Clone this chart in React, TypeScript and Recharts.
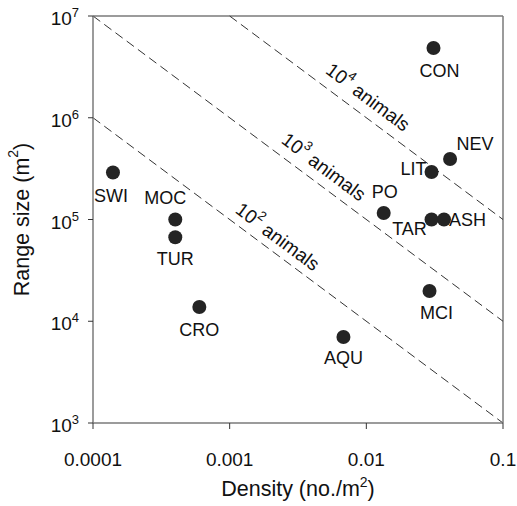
import { ReferenceLine, Scatter, ScatterChart, XAxis, YAxis } from "recharts";

const font = '"Liberation Sans", Arial, sans-serif';
const ink = "#242424";
const frame = "#7a7a7a";

const speciesNames = ["SWI", "MOC", "TUR", "CRO", "AQU", "PO", "LIT", "CON", "NEV", "TAR", "ASH", "MCI"];
const density = [0.00014, 0.0004, 0.0004, 0.0006, 0.0068, 0.0134, 0.03, 0.031, 0.041, 0.03, 0.037, 0.029];
const rangeSize = [2.9e5, 1.0e5, 6.7e4, 1.38e4, 7.0e3, 1.16e5, 2.93e5, 4.85e6, 3.93e5, 1.0e5, 1.0e5, 1.98e4];

const xTicks = [0.0001, 0.001, 0.01, 0.1];
const xTickLabels = ["0.0001", "0.001", "0.01", "0.1"];
const yTicks = [1e3, 1e4, 1e5, 1e6, 1e7];
const yExponents = ["3", "4", "5", "6", "7"];

// iso-lines of constant population (animals = density x range)
const isoExponents = ["2", "3", "4"];
const isoStart = [
  { x: 0.0001, y: 1e6 },
  { x: 0.0001, y: 1e7 },
  { x: 0.001, y: 1e7 },
];
const isoEnd = [
  { x: 0.1, y: 1e3 },
  { x: 0.1, y: 1e4 },
  { x: 0.1, y: 1e5 },
];
const isoLabelX = [0.00225, 0.0049, 0.0103];
const isoLabelY = [6.8e4, 3.3e5, 1.6e6];

const points = speciesNames.map((name, i) => ({ name, x: density[i], y: rangeSize[i] }));
const isoLabels = isoExponents.map((exp, i) => ({ exp, x: isoLabelX[i], y: isoLabelY[i] }));

// label offset from the dot centre
const labelPlacement: Record<string, { dx: number; dy: number; anchor: "start" | "middle" | "end" }> = {
  SWI: { dx: -2, dy: 24, anchor: "middle" },
  MOC: { dx: -10, dy: -22, anchor: "middle" },
  TUR: { dx: 0, dy: 22, anchor: "middle" },
  CRO: { dx: 0, dy: 23, anchor: "middle" },
  AQU: { dx: 0, dy: 21, anchor: "middle" },
  PO: { dx: 1, dy: -21, anchor: "middle" },
  LIT: { dx: -5, dy: -3, anchor: "end" },
  CON: { dx: 6, dy: 23, anchor: "middle" },
  NEV: { dx: 25, dy: -15, anchor: "middle" },
  TAR: { dx: -22, dy: 9, anchor: "middle" },
  ASH: { dx: 5, dy: 0, anchor: "start" },
  MCI: { dx: 7, dy: 22, anchor: "middle" },
};

function renderPoint(props: any) {
  const { cx, cy, payload } = props;
  const p = labelPlacement[payload.name];
  return (
    <g>
      <circle cx={cx} cy={cy} r={7} fill={ink} />
      <text
        x={cx + p.dx}
        y={cy + p.dy}
        textAnchor={p.anchor}
        dominantBaseline="central"
        fontFamily={font}
        fontSize={18}
        fill="#111"
      >
        {payload.name}
      </text>
    </g>
  );
}

function renderIsoLabel(props: any) {
  const { cx, cy, payload } = props;
  return (
    <text
      x={cx}
      y={cy}
      transform={`rotate(36.7, ${cx}, ${cy})`}
      textAnchor="middle"
      dominantBaseline="central"
      fontFamily={font}
      fontSize={19}
      fill="#111"
    >
      10
      <tspan dy={-8} fontSize={13}>
        {payload.exp}
      </tspan>
      <tspan dy={8}> animals</tspan>
    </text>
  );
}

function renderXTick(props: any) {
  const { x, y, payload } = props;
  const i = xTicks.indexOf(payload.value);
  return (
    <text x={x} y={y + 37} textAnchor="middle" fontFamily={font} fontSize={19} fill="#111">
      {xTickLabels[i]}
    </text>
  );
}

function renderYTick(props: any) {
  const { x, y, payload } = props;
  const i = yTicks.indexOf(payload.value);
  return (
    <text x={x} y={y + 9} textAnchor="end" fontFamily={font} fontSize={19} fill="#111">
      10
      <tspan dy={-8} fontSize={13}>
        {yExponents[i]}
      </tspan>
    </text>
  );
}

function renderXTitle(props: any) {
  const { viewBox } = props;
  return (
    <text x={viewBox.x + viewBox.width / 2} y={496} textAnchor="middle" fontFamily={font} fontSize={21.5} fill="#111">
      Density (no./m
      <tspan dy={-9} fontSize={14}>
        2
      </tspan>
      <tspan dy={9}>)</tspan>
    </text>
  );
}

function renderYTitle(props: any) {
  const { viewBox } = props;
  const cy = viewBox.y + viewBox.height / 2;
  return (
    <text
      x={22}
      y={cy}
      transform={`rotate(-90, 22, ${cy})`}
      textAnchor="middle"
      dominantBaseline="central"
      fontFamily={font}
      fontSize={21.5}
      fill="#111"
    >
      Range size (m
      <tspan dy={-9} fontSize={14}>
        2
      </tspan>
      <tspan dy={9}>)</tspan>
    </text>
  );
}

export default function App() {
  return (
    <div style={{ position: "absolute", left: 0, top: 0, background: "#fff" }}>
      <ScatterChart width={517} height={506} margin={{ top: 16, right: 14, bottom: 0, left: 0 }}>
        <XAxis
          type="number"
          dataKey="x"
          scale="log"
          domain={[0.0001, 0.1]}
          ticks={xTicks}
          allowDataOverflow
          height={83}
          tickSize={6}
          tickMargin={0}
          axisLine={{ stroke: frame, strokeWidth: 1.5 }}
          tickLine={{ stroke: "#333" }}
          tick={renderXTick}
          label={{ content: renderXTitle }}
        />
        <YAxis
          type="number"
          dataKey="y"
          scale="log"
          domain={[1e3, 1e7]}
          ticks={yTicks}
          allowDataOverflow
          width={93}
          tickSize={5}
          tickMargin={9}
          axisLine={{ stroke: frame, strokeWidth: 1.5 }}
          tickLine={{ stroke: "#333" }}
          tick={renderYTick}
          label={{ content: renderYTitle }}
        />
        <ReferenceLine y={1e7} stroke={frame} strokeWidth={1.5} />
        <ReferenceLine x={0.1} stroke={frame} strokeWidth={1.5} />
        {isoExponents.map((exp, i) => (
          <ReferenceLine
            key={exp}
            segment={[isoStart[i], isoEnd[i]]}
            stroke="#333"
            strokeWidth={1}
            strokeDasharray="9 5"
          />
        ))}
        <Scatter data={isoLabels} shape={renderIsoLabel} isAnimationActive={false} />
        <Scatter data={points} shape={renderPoint} isAnimationActive={false} />
      </ScatterChart>
    </div>
  );
}
